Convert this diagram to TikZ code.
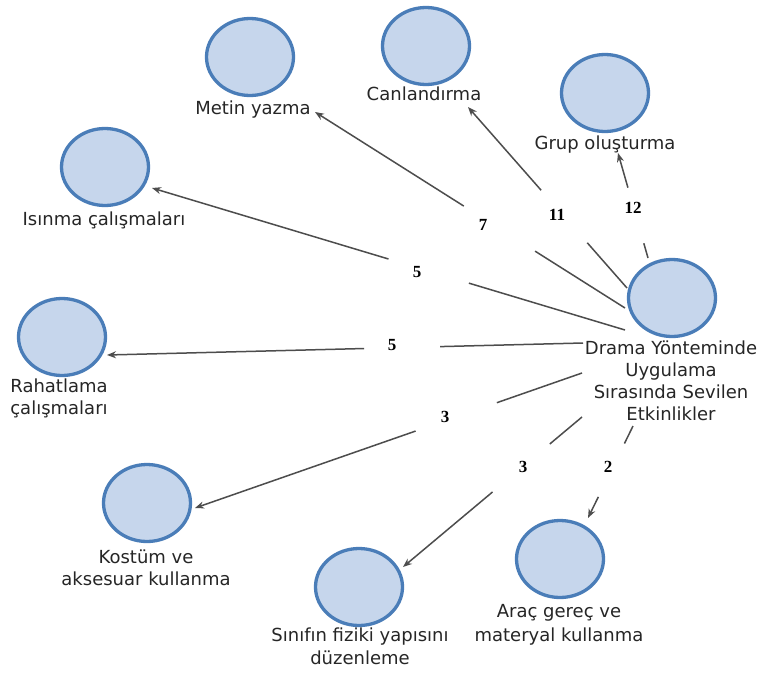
\documentclass[tikz,border=0pt]{standalone}
\usepackage{fontspec}
\setmainfont{DejaVu Sans}
\newfontfamily\numfont{Liberation Serif}
\usetikzlibrary{shapes.geometric,arrows.meta}
\definecolor{bubfill}{HTML}{C6D6EC}
\definecolor{bubline}{HTML}{4A7DB8}
\definecolor{txt}{HTML}{262626}
\definecolor{lncol}{HTML}{4D4D4D}
\begin{document}
\begin{tikzpicture}[x=1pt,y=-1pt,
 bub/.style={ellipse, draw=bubline, fill=bubfill, line width=3.3pt, minimum width=87pt, minimum height=77pt, inner sep=0pt},
 lbl/.style={text=txt, font=\fontsize{18}{22}\selectfont, align=center, inner sep=0pt},
 num/.style={font=\numfont\bfseries\fontsize{17}{18}\selectfont, inner sep=0pt},
 ln/.style={draw=lncol, line width=1.5pt},
 arr/.style={ln, -{Stealth[length=9pt,width=7pt]}}]
\useasboundingbox (0,0) rectangle (763,672);
\fill[white] (0,0) rectangle (763,672);

% bubbles
\node[bub] (cen) at (672,298) {};
\node[bub] (met) at (250,57) {};
\node[bub] (can) at (426,46) {};
\node[bub] (gru) at (605,93) {};
\node[bub] (isi) at (105,167) {};
\node[bub] (rah) at (62,337) {};
\node[bub] (kos) at (147,503) {};
\node[bub] (sin) at (359,587) {};
\node[bub] (arc) at (560,559) {};

% labels
\node[lbl] (lcen) at (671,381) {Drama Yönteminde\\Uygulama\\Sırasında Sevilen\\Etkinlikler};
\node[lbl] (lmet) at (253,110) {Metin yazma};
\node[lbl] (lcan) at (424,94) {Canlandırma};
\node[lbl] (lgru) at (605,145) {Grup oluşturma};
\node[lbl] (lisi) at (104,220) {Isınma çalışmaları};
\node[lbl] (lrah) at (59,398) {Rahatlama\\çalışmaları};
\node[lbl] (lkos) at (146,567.5) {Kostüm ve\\aksesuar kullanma};
\node[lbl] (lsin) at (360,646.5) {Sınıfın fiziki yapısını\\[1pt]düzenleme};
\node[lbl] (larc) at (559,625) {Araç gereç ve\\[2pt]materyal kullanma};

% connector end points
\coordinate (s7) at (625,308);  \coordinate (t7) at (315,112);
\coordinate (s11) at (627,288); \coordinate (t11) at (468,107);
\coordinate (s12) at (648,258); \coordinate (t12) at (618,153);
\coordinate (sI) at (625,330);  \coordinate (tI) at (152,188);
\coordinate (sR) at (583,343);  \coordinate (tR) at (107,355);
\coordinate (sK) at (582,373);  \coordinate (tK) at (195,508);
\coordinate (sS) at (582,417);  \coordinate (tS) at (403,567);
\coordinate (sA) at (633,426);  \coordinate (tA) at (588,518);

\path (s7) -- (t7) coordinate[pos=0.29] (a7) coordinate[pos=0.52] (b7);
\path (s11) -- (t11) coordinate[pos=0.25] (a11) coordinate[pos=0.54] (b11);
\path (s12) -- (t12) coordinate[pos=0.14] (a12) coordinate[pos=0.67] (b12);
\path (sI) -- (tI) coordinate[pos=0.33] (aI) coordinate[pos=0.50] (bI);
\path (sR) -- (tR) coordinate[pos=0.30] (aR) coordinate[pos=0.46] (bR);
\path (sK) -- (tK) coordinate[pos=0.22] (aK) coordinate[pos=0.43] (bK);
\path (sS) -- (tS) coordinate[pos=0.18] (aS) coordinate[pos=0.50] (bS);
\path (sA) -- (tA) coordinate[pos=0.19] (aA) coordinate[pos=0.77] (bA);

\draw[ln] (s7) -- (a7);   \draw[arr] (b7) -- (t7);
\draw[ln] (s11) -- (a11); \draw[arr] (b11) -- (t11);
\draw[ln] (s12) -- (a12); \draw[arr] (b12) -- (t12);
\draw[ln] (sI) -- (aI);   \draw[arr] (bI) -- (tI);
\draw[ln] (sR) -- (aR);   \draw[arr] (bR) -- (tR);
\draw[ln] (sK) -- (aK);   \draw[arr] (bK) -- (tK);
\draw[ln] (sS) -- (aS);   \draw[arr] (bS) -- (tS);
\draw[ln] (sA) -- (aA);   \draw[arr] (bA) -- (tA);

% numbers
\node[num] (n7) at (483,225) {7};
\node[num] (n11) at (557,215) {11};
\node[num] (n12) at (633,208) {12};
\node[num] (nI) at (417,272) {5};
\node[num] (nR) at (392,345) {5};
\node[num] (nK) at (445,417) {3};
\node[num] (nS) at (523,467) {3};
\node[num] (nA) at (608,467) {2};
\end{tikzpicture}
\end{document}
